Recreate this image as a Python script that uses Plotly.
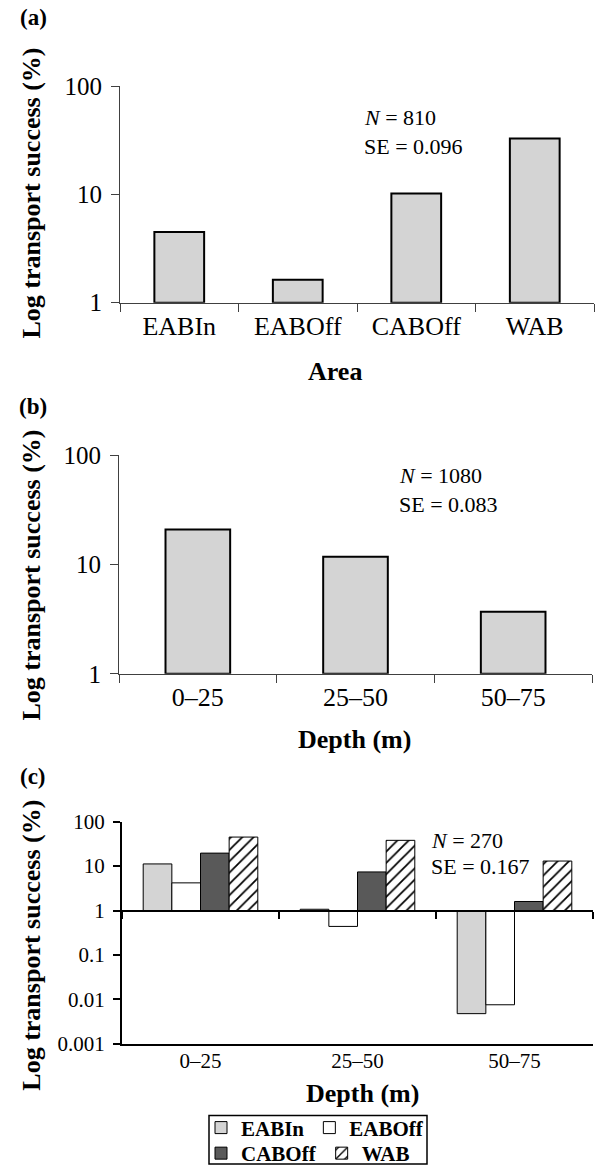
import plotly.graph_objects as go

W, H = 597, 1174

# ---------------- data ----------------
areas = ["EABIn", "EABOff", "CABOff", "WAB"]
area_success = [4.5, 1.63, 10.2, 33.0]

depths = ["0–25", "25–50", "50–75"]
depth_success = [21.0, 11.8, 3.7]

eabin_c = [11.2, 1.07, 0.0048]
eaboff_c = [4.2, 0.44, 0.0076]
caboff_c = [19.6, 7.4, 1.6]
wab_c = [45.0, 38.0, 13.0]

stats_a = ("810", "0.096")
stats_b = ("1080", "0.083")
stats_c = ("270", "0.167")

BASE = 1.0
FONT = "Liberation Serif"


def px(x):
    return x / W


def py(y):
    return 1 - y / H


fig = go.Figure()

# ---- panel (a)
fig.add_trace(go.Bar(
    x=areas, y=[v - BASE for v in area_success], base=BASE, width=0.42,
    marker=dict(color="#d4d4d4", line=dict(color="black", width=2)),
    xaxis="x", yaxis="y", showlegend=False, name="Area"))

# ---- panel (b)
fig.add_trace(go.Bar(
    x=depths, y=[v - BASE for v in depth_success], base=BASE, width=0.41,
    marker=dict(color="#d4d4d4", line=dict(color="black", width=2)),
    xaxis="x2", yaxis="y2", showlegend=False, name="Depth"))

# ---- panel (c)
series_c = [
    ("EABIn", eabin_c, dict(color="#d4d4d4"), "legend"),
    ("EABOff", eaboff_c, dict(color="white"), "legend"),
    ("CABOff", caboff_c, dict(color="#595959"), "legend2"),
    ("WAB", wab_c, dict(color="white",
                        pattern=dict(shape="/", fgcolor="black", bgcolor="white",
                                     fgopacity=1, size=8, solidity=0.22)), "legend2"),
]
for name, vals, mk, leg in series_c:
    mk = dict(mk)
    mk["line"] = dict(color="black", width=1)
    fig.add_trace(go.Bar(
        x=depths, y=[v - BASE for v in vals], base=BASE, name=name,
        marker=mk, xaxis="x3", yaxis="y3", legend=leg))

# dummy trace so the overlay baseline axis is registered
fig.add_trace(go.Scatter(x=[], y=[], xaxis="x4", yaxis="y3", showlegend=False,
                         hoverinfo="skip"))

dom_a_y = [py(305), py(87)]
dom_b_y = [py(679), py(459)]
dom_c_y = [py(1052), py(828)]
c_lo, c_hi = -3, 2
pos_one = dom_c_y[0] + (0 - c_lo) / (c_hi - c_lo) * (dom_c_y[1] - dom_c_y[0])

gray = "#404040"
tf_ab = dict(family=FONT, size=25, color="black")
xf_ab = dict(family=FONT, size=26, color="black")
tf_c = dict(family=FONT, size=21, color="black")


def xcat(domain, anchor, font, color=gray, lw=1, ticks="outside", ticklen=8,
         standoff=0):
    return dict(domain=domain, anchor=anchor, type="category", showline=True,
                linecolor=color, linewidth=lw, ticks=ticks, tickson="boundaries",
                ticklen=ticklen, tickcolor=color, tickwidth=lw, tickfont=font,
                showgrid=False, zeroline=False, automargin=False, fixedrange=True,
                ticklabelstandoff=standoff)


def ylog(domain, anchor, rng, vals, font, color=gray, lw=1, ticklen=8):
    return dict(domain=domain, anchor=anchor, type="log", range=rng,
                tickmode="array", tickvals=vals, ticktext=[f"{v:g}" for v in vals],
                showline=True, linecolor=color, linewidth=lw, ticks="outside",
                ticklen=ticklen, tickcolor=color, tickwidth=lw, tickfont=font,
                showgrid=False, zeroline=False, automargin=False, fixedrange=True,
                ticklabelstandoff=4)


leg_font = dict(family=FONT, size=21, weight="bold", color="black")

fig.update_layout(
    width=W, height=H,
    margin=dict(l=0, r=0, t=0, b=0),
    paper_bgcolor="white", plot_bgcolor="white",
    font=dict(family=FONT, color="black"),
    barmode="group", bargap=0.27, bargroupgap=0,
    xaxis=xcat([px(120), px(594)], "y", xf_ab, standoff=0),
    yaxis=ylog(dom_a_y, "x", [0, 2], [1, 10, 100], tf_ab),
    xaxis2=xcat([px(119), px(592)], "y2", xf_ab, standoff=0),
    yaxis2=ylog(dom_b_y, "x2", [0, 2], [1, 10, 100], tf_ab),
    xaxis3=xcat([px(122), px(593)], "y3", tf_c, color="black", lw=2, ticks="",
                standoff=-3),
    yaxis3=ylog(dom_c_y, "x3", [c_lo, c_hi], [0.001, 0.01, 0.1, 1, 10, 100], tf_c,
                color="black", lw=2, ticklen=7),
    xaxis4=dict(overlaying="x3", anchor="free", position=pos_one,
                domain=[px(122), px(593)], range=[-0.5, 2.5], tickmode="array",
                tickvals=[-0.5, 0.5, 1.5, 2.5], showticklabels=False,
                showline=True, linecolor="black", linewidth=2, ticks="outside",
                ticklen=7, tickwidth=1.5, tickcolor="black", showgrid=False,
                zeroline=False, fixedrange=True),
    legend=dict(orientation="h", x=px(201), y=py(1116), xanchor="left",
                yanchor="top", font=leg_font,
                bgcolor="rgba(0,0,0,0)", borderwidth=0, itemclick=False,
                tracegroupgap=0),
    legend2=dict(orientation="h", x=px(201), y=py(1142), xanchor="left",
                 yanchor="top", font=leg_font,
                 bgcolor="rgba(0,0,0,0)", borderwidth=0, itemclick=False,
                 tracegroupgap=0),
)

# legend frame
fig.add_shape(type="rect", xref="paper", yref="paper",
              x0=px(209), x1=px(427), y0=py(1173), y1=py(1124),
              line=dict(color="black", width=1.5))


def ann(text, x, y, size, bold=False, angle=0, xanchor="center"):
    fig.add_annotation(text=text, x=px(x), y=py(y), xref="paper", yref="paper",
                       showarrow=False, textangle=angle, xanchor=xanchor,
                       yanchor="middle",
                       font=dict(family=FONT, size=size, color="black",
                                 weight="bold" if bold else "normal"))


# panel letters
ann("(a)", 33, 18, 23, bold=True)
ann("(b)", 33, 410, 23, bold=True)
ann("(c)", 33, 783, 23, bold=True)

# y titles
ylab = "Log transport success (%)"
ann(ylab, 32, 195, 26, bold=True, angle=-90)
ann(ylab, 32, 580, 26, bold=True, angle=-90)
ann(ylab, 32, 953, 26, bold=True, angle=-90)

# x titles
ann("Area", 335, 374, 26, bold=True)
ann("Depth (m)", 355, 745, 26, bold=True)
ann("Depth (m)", 362, 1102, 26, bold=True)

# stats text
for (n, se), (x0, yn, yse) in zip([stats_a, stats_b, stats_c],
                                   [(362, 118, 148), (397, 479, 508), (429, 847, 873)]):
    ann(f"<i>N</i> = {n}", x0, yn, 22, xanchor="left")
    ann(f"SE = {se}", x0, yse, 22, xanchor="left")

fig.write_html("out.html")
